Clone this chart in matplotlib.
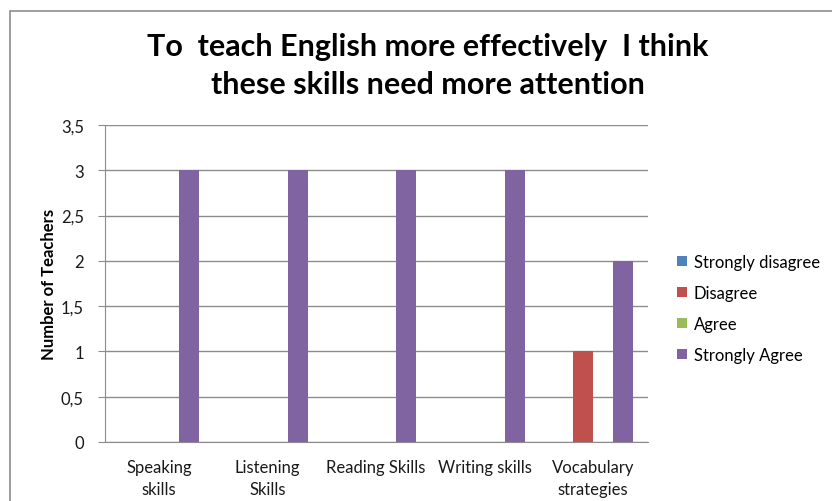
import numpy as np
import matplotlib.pyplot as plt
from matplotlib.patches import Rectangle
from matplotlib.ticker import FuncFormatter

# data
categories = ['Speaking\nskills', 'Listening\nSkills', 'Reading Skills', 'Writing skills', 'Vocabulary\nstrategies']
series_names = ['Strongly disagree', 'Disagree', 'Agree', 'Strongly Agree']
strongly_disagree = [0, 0, 0, 0, 0]
disagree = [0, 0, 0, 0, 1]
agree = [0, 0, 0, 0, 0]
strongly_agree = [3, 3, 3, 3, 2]
colors = ['#4F81BD', '#C0504D', '#9BBB59', '#8064A2']

plt.rcParams['font.family'] = ['Lato', 'DejaVu Sans']

fig = plt.figure(figsize=(8.32, 5.02), dpi=100, facecolor='white')

# chart frame (Excel-like border)
fig.patches.append(Rectangle((10 / 832, -0.1), 1.2, 1 - 12 / 502 + 0.1, transform=fig.transFigure,
                             fill=False, edgecolor='#8c8c8c', linewidth=1.2))

ax = fig.add_axes([104.75 / 832, 59 / 502, 542.75 / 832, 317 / 502])

x = np.arange(len(categories))
w = 0.184
all_series = [strongly_disagree, disagree, agree, strongly_agree]
for i, (vals, name, c) in enumerate(zip(all_series, series_names, colors)):
    ax.bar(x + (i - 1.5) * w, vals, width=w, color=c, label=name, zorder=3)

ax.set_xlim(-0.5, len(categories) - 0.5)
ax.set_ylim(0, 3.5)
ax.set_yticks(np.arange(0, 3.51, 0.5))
ax.yaxis.set_major_formatter(FuncFormatter(lambda v, p: ('%g' % v).replace('.', ',')))
ax.grid(axis='y', color='#8c8c8c', linewidth=1, zorder=0)
ax.set_xticks(x)
ax.set_xticklabels(categories, fontsize=12, linespacing=1.5, color='#1a1a1a')
ax.tick_params(axis='x', length=0, pad=12)
ax.tick_params(axis='y', length=5, color='#8c8c8c', labelsize=12, pad=10, labelcolor='#1a1a1a')

for s in ['top', 'right']:
    ax.spines[s].set_visible(False)
ax.spines['left'].set_color('#8c8c8c')
ax.spines['bottom'].set_color('#8c8c8c')

ax.set_ylabel('Number of Teachers', fontsize=12, fontweight='bold', labelpad=3)

fig.text(428 / 832, 1 - 66 / 502, 'To  teach English more effectively  I think\nthese skills need more attention',
         ha='center', va='center', fontsize=22, fontweight='bold', linespacing=1.45)

ax.legend(loc='center left', bbox_to_anchor=(1.027, 0.422), frameon=False, fontsize=12,
          handlelength=0.6, handleheight=0.6, handletextpad=0.4, labelspacing=0.9)

plt.savefig('out.png', dpi=100)
plt.close()
